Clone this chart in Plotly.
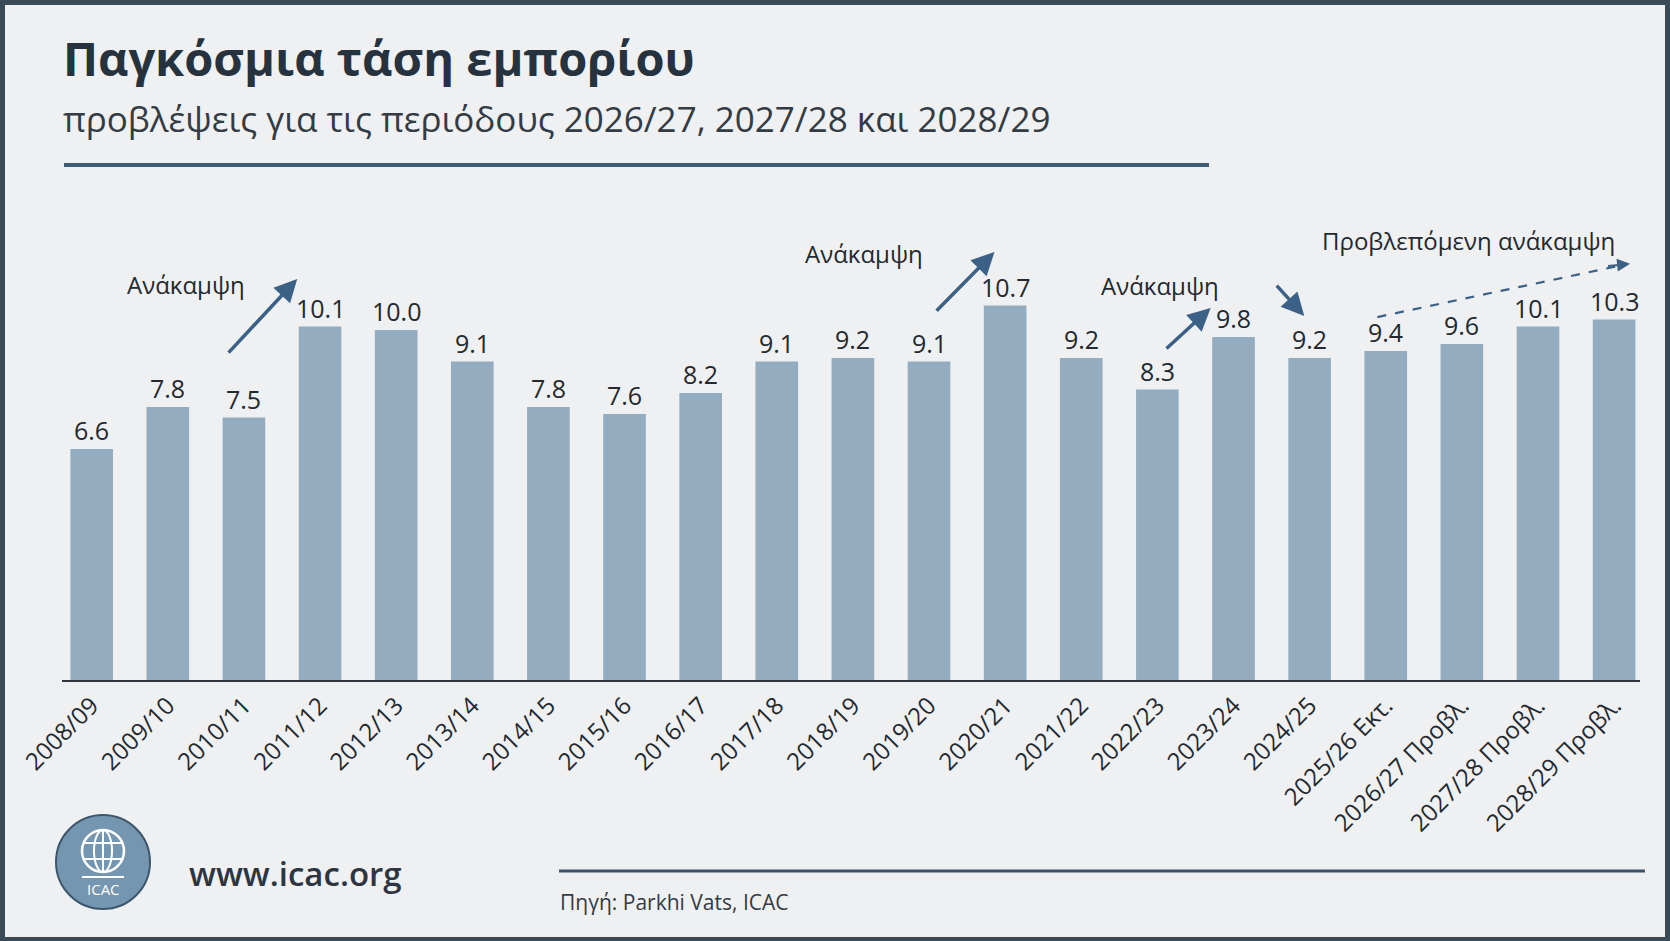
import plotly.graph_objects as go

# ---------------- data ----------------
categories = ["2008/09", "2009/10", "2010/11", "2011/12", "2012/13", "2013/14",
              "2014/15", "2015/16", "2016/17", "2017/18", "2018/19", "2019/20",
              "2020/21", "2021/22", "2022/23", "2023/24", "2024/25",
              "2025/26 Εκτ.", "2026/27 Προβλ.", "2027/28 Προβλ.", "2028/29 Προβλ."]
values = [6.6, 7.8, 7.5, 10.1, 10.0, 9.1, 7.8, 7.6, 8.2, 9.1, 9.2, 9.1,
          10.7, 9.2, 8.3, 9.8, 9.2, 9.4, 9.6, 10.1, 10.3]

title_text = "Παγκόσμια τάση εμπορίου"
subtitle_text = "προβλέψεις για τις περιόδους 2026/27, 2027/28 και 2028/29"
recovery_label = "Ανάκαμψη"
forecast_label = "Προβλεπόμενη ανάκαμψη"
site_text = "www.icac.org"
source_text = "Πηγή: Parkhi Vats, ICAC"

# ---------------- style ----------------
W, H = 1670, 941
FONT = "Open Sans"
FRAME = "#3b4a57"
BG = "#eef0f2"
BAR = "#93acbf"
ARROW = "#3c6186"
TXT = "#23292f"


def X(px):
    return px / W


def Y(py):
    return 1 - py / H


fig = go.Figure()
fig.add_trace(go.Bar(
    x=categories, y=values, marker=dict(color=BAR, line=dict(width=0)),
    hoverinfo="skip", showlegend=False,
))

annotations = []
# value labels
for c, v in zip(categories, values):
    annotations.append(dict(x=c, y=v, xref="x", yref="y", text=f"{v:.1f}",
                            showarrow=False, yshift=19, yanchor="middle",
                            font=dict(family=FONT, size=25, color=TXT)))

# title, subtitle
annotations.append(dict(x=X(61), y=Y(58), xref="paper", yref="paper", text=title_text,
                        showarrow=False, xanchor="left", yanchor="middle",
                        font=dict(family=FONT, size=47, color="#26323d", weight=700)))
annotations.append(dict(x=X(61), y=Y(118), xref="paper", yref="paper", text=subtitle_text,
                        showarrow=False, xanchor="left", yanchor="middle",
                        font=dict(family=FONT, size=35, color="#333b44")))


def lab(x, y, t):
    annotations.append(dict(x=x, y=y, xref="x", yref="y", text=t, showarrow=False,
                            xanchor="center", yanchor="middle",
                            font=dict(family=FONT, size=24, color=TXT)))


def arrow(x0, y0, x1, y1):
    annotations.append(dict(x=x1, y=y1, ax=x0, ay=y0, xref="x", yref="y",
                            axref="x", ayref="y", text="", showarrow=True,
                            arrowhead=2, arrowsize=1.3, arrowwidth=3.5,
                            arrowcolor=ARROW))


lab(1.24, 11.31, recovery_label)
arrow(1.78, 9.31, 2.70, 11.46)
lab(10.15, 12.2, recovery_label)
arrow(11.08, 10.51, 11.86, 12.23)
lab(14.04, 11.26, recovery_label)
arrow(14.10, 9.43, 14.70, 10.63)
arrow(15.55, 11.31, 15.93, 10.40)
lab(18.09, 12.57, forecast_label)
annotations.append(dict(x=20.21, y=11.89, ax=19.9, ay=11.825, xref="x", yref="y",
                        axref="x", ayref="y", text="", showarrow=True,
                        arrowhead=2, arrowsize=1.3, arrowwidth=2, arrowcolor=ARROW))

# footer texts
annotations.append(dict(x=X(187), y=Y(873), xref="paper", yref="paper", text=site_text,
                        showarrow=False, xanchor="left", yanchor="middle",
                        font=dict(family=FONT, size=33, color="#2d3640", weight=600)))
annotations.append(dict(x=X(558), y=Y(902), xref="paper", yref="paper", text=source_text,
                        showarrow=False, xanchor="left", yanchor="middle",
                        font=dict(family=FONT, size=21, color="#333b44")))
annotations.append(dict(x=X(103), y=Y(889), xref="paper", yref="paper", text="ICAC",
                        showarrow=False, xanchor="center", yanchor="middle",
                        font=dict(family=FONT, size=15, color="white")))

shapes = [
    dict(type="rect", xref="paper", yref="paper", x0=X(5), x1=X(1665), y0=Y(937), y1=Y(5),
         fillcolor=BG, line=dict(width=0), layer="below"),
    dict(type="line", xref="paper", yref="paper", x0=X(64), x1=X(1209), y0=Y(165), y1=Y(165),
         line=dict(color="#3f5b78", width=4)),
    dict(type="line", xref="paper", yref="paper", x0=X(559), x1=X(1645), y0=Y(871), y1=Y(871),
         line=dict(color="#3d5468", width=3)),
    dict(type="line", xref="x", yref="y", x0=16.89, y0=10.37, x1=20.1, y1=11.85,
         line=dict(color=ARROW, width=2.2, dash="dash")),
    # logo
    dict(type="circle", xref="paper", yref="paper", x0=X(56), x1=X(150), y0=Y(909), y1=Y(815),
         fillcolor="#7596b0", line=dict(color="#3d566c", width=2)),
    dict(type="circle", xref="paper", yref="paper", x0=X(82), x1=X(124), y0=Y(872), y1=Y(830),
         fillcolor="rgba(0,0,0,0)", line=dict(color="white", width=2.5)),
    dict(type="circle", xref="paper", yref="paper", x0=X(94), x1=X(112), y0=Y(872), y1=Y(830),
         fillcolor="rgba(0,0,0,0)", line=dict(color="white", width=2)),
    dict(type="line", xref="paper", yref="paper", x0=X(84), x1=X(122), y0=Y(843), y1=Y(843),
         line=dict(color="white", width=2)),
    dict(type="line", xref="paper", yref="paper", x0=X(84), x1=X(122), y0=Y(859), y1=Y(859),
         line=dict(color="white", width=2)),
    dict(type="line", xref="paper", yref="paper", x0=X(103), x1=X(103), y0=Y(872), y1=Y(830),
         line=dict(color="white", width=2)),
    dict(type="line", xref="paper", yref="paper", x0=X(82), x1=X(124), y0=Y(877), y1=Y(877),
         line=dict(color="white", width=2)),
]

fig.update_layout(
    width=W, height=H,
    margin=dict(l=0, r=0, t=0, b=0, pad=0, autoexpand=False),
    paper_bgcolor=FRAME, plot_bgcolor="rgba(0,0,0,0)",
    bargap=0.44,
    font=dict(family=FONT, color=TXT),
    xaxis=dict(domain=[X(62), X(1640)], range=[-0.39, 20.34], type="category",
               automargin=False,
               showgrid=False, zeroline=False, showline=True, linecolor="#2f353b",
               linewidth=2, ticks="", tickangle=-45,
               tickfont=dict(family=FONT, size=24, color=TXT)),
    yaxis=dict(domain=[Y(680), Y(190)], range=[0, 14], visible=False,
               automargin=False, showgrid=False, zeroline=False),
    annotations=annotations,
    shapes=shapes,
)

fig.write_html(
    "out.html",
    config=dict(displayModeBar=False),
    post_script="document.body.style.margin='0';document.body.style.overflow='hidden';",
)
